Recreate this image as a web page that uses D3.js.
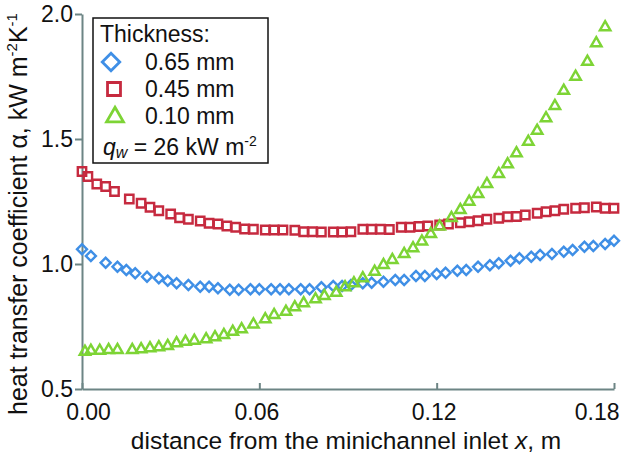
<!DOCTYPE html>
<html>
<head>
<meta charset="utf-8">
<script src="https://cdn.jsdelivr.net/npm/d3@7"></script>
<style>
  body { margin: 0; background: #fff; }
  text { font-family: "Liberation Sans", Arial, sans-serif; fill: #111; }
</style>
</head>
<body>
<div id="chart"></div>
<script>
// Data (x in m, alpha in kW m-2 K-1)
var x065 = [0.000, 0.003, 0.008, 0.012, 0.015, 0.018, 0.022, 0.026, 0.029, 0.032, 0.036, 0.040, 0.043, 0.046, 0.050, 0.053, 0.057, 0.060, 0.064, 0.067, 0.070, 0.074, 0.077, 0.081, 0.085, 0.088, 0.091, 0.095, 0.098, 0.102, 0.106, 0.109, 0.113, 0.116, 0.120, 0.123, 0.127, 0.130, 0.134, 0.138, 0.141, 0.145, 0.148, 0.152, 0.155, 0.159, 0.163, 0.166, 0.170, 0.173, 0.177, 0.180];
var a065 = [1.059, 1.032, 1.005, 0.989, 0.976, 0.963, 0.949, 0.943, 0.933, 0.923, 0.916, 0.909, 0.909, 0.903, 0.897, 0.897, 0.899, 0.899, 0.899, 0.899, 0.899, 0.899, 0.899, 0.907, 0.912, 0.912, 0.916, 0.923, 0.925, 0.929, 0.936, 0.936, 0.952, 0.952, 0.960, 0.965, 0.973, 0.976, 0.989, 0.995, 1.003, 1.013, 1.023, 1.029, 1.036, 1.040, 1.049, 1.056, 1.069, 1.072, 1.080, 1.093];

var x045 = [0.000, 0.002, 0.005, 0.008, 0.011, 0.016, 0.020, 0.023, 0.026, 0.030, 0.033, 0.036, 0.040, 0.043, 0.046, 0.049, 0.052, 0.055, 0.058, 0.062, 0.065, 0.068, 0.072, 0.075, 0.078, 0.081, 0.085, 0.088, 0.091, 0.095, 0.098, 0.101, 0.104, 0.108, 0.111, 0.114, 0.117, 0.121, 0.124, 0.128, 0.131, 0.134, 0.137, 0.141, 0.144, 0.147, 0.150, 0.154, 0.157, 0.160, 0.163, 0.167, 0.170, 0.174, 0.177, 0.180];
var a045 = [1.370, 1.350, 1.320, 1.310, 1.290, 1.260, 1.243, 1.227, 1.213, 1.200, 1.185, 1.179, 1.172, 1.163, 1.160, 1.152, 1.147, 1.140, 1.139, 1.136, 1.136, 1.136, 1.135, 1.129, 1.129, 1.128, 1.128, 1.128, 1.129, 1.139, 1.139, 1.139, 1.138, 1.147, 1.147, 1.150, 1.152, 1.156, 1.160, 1.165, 1.169, 1.173, 1.179, 1.183, 1.189, 1.190, 1.196, 1.203, 1.209, 1.213, 1.219, 1.223, 1.225, 1.228, 1.223, 1.223];

var x010 = [0.001, 0.003, 0.006, 0.009, 0.012, 0.017, 0.020, 0.023, 0.026, 0.029, 0.032, 0.035, 0.038, 0.042, 0.045, 0.048, 0.051, 0.054, 0.058, 0.062, 0.065, 0.069, 0.072, 0.075, 0.079, 0.082, 0.086, 0.089, 0.092, 0.095, 0.099, 0.102, 0.105, 0.109, 0.112, 0.115, 0.118, 0.121, 0.125, 0.128, 0.131, 0.134, 0.137, 0.141, 0.144, 0.147, 0.151, 0.154, 0.157, 0.160, 0.163, 0.167, 0.171, 0.174, 0.177];
var a010 = [0.649, 0.653, 0.653, 0.656, 0.656, 0.656, 0.659, 0.663, 0.667, 0.672, 0.683, 0.689, 0.693, 0.699, 0.707, 0.716, 0.729, 0.739, 0.758, 0.779, 0.796, 0.809, 0.827, 0.843, 0.859, 0.872, 0.885, 0.907, 0.923, 0.943, 0.969, 0.996, 1.016, 1.040, 1.063, 1.090, 1.120, 1.150, 1.184, 1.216, 1.249, 1.280, 1.320, 1.360, 1.399, 1.443, 1.489, 1.533, 1.583, 1.632, 1.693, 1.749, 1.809, 1.883, 1.947];

var xTicks = [0, 0.06, 0.12, 0.18];
var yTicks = [0.5, 1.0, 1.5, 2.0];
var seriesNames = ["0.65 mm", "0.45 mm", "0.10 mm"];

var W = 622, H = 459;
var margin = { top: 14, right: 8, bottom: 70, left: 82 };
var axisColor = "#6d8585";

var series = [
  { name: seriesNames[0], xs: x065, ys: a065, color: "#3f8fe6", shape: "diamond" },
  { name: seriesNames[1], xs: x045, ys: a045, color: "#c62a3f", shape: "square" },
  { name: seriesNames[2], xs: x010, ys: a010, color: "#7dd435", shape: "triangle" }
];

var svg = d3.select("#chart").append("svg")
    .attr("width", W)
    .attr("height", H);

var x = d3.scaleLinear().domain([0, 0.18]).range([margin.left, W - margin.right]);
var y = d3.scaleLinear().domain([0.5, 2.0]).range([H - margin.bottom, margin.top]);

// marker path per shape, s = scale factor
function marker(shape, s) {
  if (shape === "diamond") return d3.symbol(d3.symbolSquare, 50 * s * s)();
  if (shape === "square") return d3.symbol(d3.symbolSquare, 70 * s * s)();
  return d3.symbol(d3.symbolTriangle, 48 * s * s)();
}

// axes
var xAxis = d3.axisBottom(x).tickValues(xTicks).tickFormat(d3.format(".2f"))
    .tickSizeInner(-6).tickSizeOuter(0).tickPadding(15);
var yAxis = d3.axisLeft(y).tickValues(yTicks).tickFormat(d3.format(".1f"))
    .tickSizeInner(7).tickSizeOuter(0).tickPadding(2);

var gx = svg.append("g").attr("transform", "translate(0," + (H - margin.bottom) + ")").call(xAxis);
var gy = svg.append("g").attr("transform", "translate(" + margin.left + ",0)").call(yAxis);
[gx, gy].forEach(function(g) {
  g.selectAll("path, line").attr("stroke", axisColor).attr("stroke-width", 2);
  g.selectAll("text").style("font-size", "23px").attr("fill", "#111")
    .style("font-family", "'Liberation Sans', Arial, sans-serif");
});
// first and last x labels sit inside the axis ends
gx.selectAll(".tick text")
    .attr("text-anchor", function(d, i) { return i === xTicks.length - 1 ? "end" : "middle"; })
    .attr("x", function(d, i) { return i === 0 ? 6 : (i === xTicks.length - 1 ? 5 : -3); });

// points
series.forEach(function(s) {
  var pts = s.xs.map(function(v, i) { return [v, s.ys[i]]; });
  svg.append("g").selectAll("path")
    .data(pts)
    .enter()
      .append("path")
        .attr("d", marker(s.shape, 1))
        .attr("transform", function(d) {
          return "translate(" + x(d[0]) + "," + y(d[1]) + ")" + (s.shape === "diamond" ? " rotate(45)" : "");
        })
        .attr("fill", "none")
        .attr("stroke", s.color)
        .attr("stroke-width", 2.4);
});

// axis titles
svg.append("text")
    .attr("x", 346).attr("y", 449)
    .attr("text-anchor", "middle")
    .style("font-size", "24.5px")
    .html("distance from the minichannel inlet <tspan font-style='italic'>x</tspan>, m");

var yt = svg.append("text")
    .attr("transform", "translate(27,214) rotate(-90)")
    .attr("text-anchor", "middle")
    .style("font-size", "25px");
yt.append("tspan").text("heat transfer coefficient α, kW m");
yt.append("tspan").attr("dy", -10).style("font-size", "15px").text("-2");
yt.append("tspan").attr("dy", 10).text("K");
yt.append("tspan").attr("dy", -10).style("font-size", "15px").text("-1");

// legend
var lg = svg.append("g");
lg.append("rect")
    .attr("x", 93).attr("y", 18).attr("width", 175).attr("height", 145)
    .attr("fill", "#fff").attr("stroke", "#111").attr("stroke-width", 1.5);
lg.append("text").attr("x", 100).attr("y", 42).style("font-size", "23px").text("Thickness:");
var legendRows = [
  { cx: 111, cy: 62, ty: 70, k: 1.75 },
  { cx: 114, cy: 89, ty: 97, k: 1.55 },
  { cx: 115, cy: 117, ty: 124, k: 1.6 }
];
series.forEach(function(s, i) {
  var r = legendRows[i];
  lg.append("path")
    .attr("d", marker(s.shape, r.k))
    .attr("transform", "translate(" + r.cx + "," + r.cy + ")" + (s.shape === "diamond" ? " rotate(45)" : ""))
    .attr("fill", "none").attr("stroke", s.color).attr("stroke-width", 2.8);
  lg.append("text").attr("x", 145).attr("y", r.ty).style("font-size", "23px").text(s.name);
});
var qt = lg.append("text").attr("x", 103).attr("y", 155).style("font-size", "23px");
qt.append("tspan").style("font-style", "italic").text("q");
qt.append("tspan").style("font-style", "italic").style("font-size", "16px").attr("dy", 3).text("w");
qt.append("tspan").attr("dy", -3).text(" = 26 kW m");
qt.append("tspan").attr("dy", -9).style("font-size", "14px").text("-2");
</script>
</body>
</html>
